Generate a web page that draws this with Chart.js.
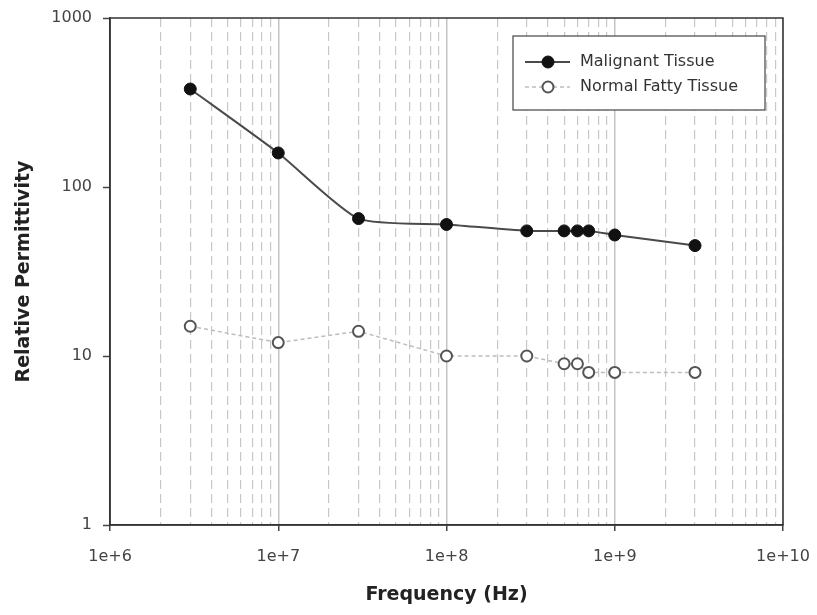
<!DOCTYPE html>
<html>
<head>
<meta charset="utf-8">
<script src="https://cdn.jsdelivr.net/npm/chart.js@4/dist/chart.umd.min.js"></script>
<style>
  html, body { margin: 0; padding: 0; background: #fff; }
  canvas { display: block; }
</style>
</head>
<body>
<canvas id="permChart" width="817" height="615"></canvas>
<script>
// values (log-log)
const frequencies = [3e6, 1e7, 3e7, 1e8, 3e8, 5e8, 6e8, 7e8, 1e9, 3e9];
const malignantValues = [380, 159, 65, 60, 55, 55, 55, 55, 52, 45];
const fattyValues = [15, 12, 14, 10, 10, 9, 9, 8, 8, 8];
const seriesNames = ['Malignant Tissue', 'Normal Fatty Tissue'];
const xDecades = [1e6, 1e7, 1e8, 1e9, 1e10];
const yDecades = [1, 10, 100, 1000];

const FONT = "'DejaVu Sans', sans-serif";

function isDecade(v) {
  const l = Math.log10(v);
  return Math.abs(l - Math.round(l)) < 1e-9;
}

// all 1..9 x 10^n positions between the decades, for the dashed grid
function minorTicks(decades) {
  const out = [];
  for (let i = 0; i < decades.length - 1; i++) {
    for (let m = 1; m < 10; m++) out.push({ value: decades[i] * m });
  }
  out.push({ value: decades[decades.length - 1] });
  return out;
}

// box round the plot + the legend drawn inside it
const framePlugin = {
  id: 'frame',
  afterDraw(chart) {
    const { ctx, chartArea: a } = chart;
    ctx.save();
    ctx.strokeStyle = '#333';
    ctx.lineWidth = 1.5;
    ctx.strokeRect(a.left, a.top, a.right - a.left, a.bottom - a.top);

    // legend
    const bx = 513, by = 36, bw = 252, bh = 74;
    ctx.fillStyle = '#fff';
    ctx.fillRect(bx, by, bw, bh);
    ctx.strokeStyle = '#444';
    ctx.lineWidth = 1.2;
    ctx.strokeRect(bx, by, bw, bh);
    const rows = [62, 87];
    chart.data.datasets.forEach((ds, i) => {
      const y = rows[i];
      ctx.save();
      ctx.strokeStyle = ds.borderColor;
      ctx.lineWidth = ds.borderWidth;
      ctx.setLineDash(ds.borderDash || []);
      ctx.beginPath();
      ctx.moveTo(525, y);
      ctx.lineTo(570, y);
      ctx.stroke();
      ctx.restore();
      ctx.beginPath();
      ctx.arc(548, y, ds.pointRadius, 0, Math.PI * 2);
      ctx.fillStyle = ds.pointBackgroundColor;
      ctx.fill();
      ctx.lineWidth = ds.pointBorderWidth;
      ctx.strokeStyle = ds.pointBorderColor;
      ctx.stroke();
      ctx.fillStyle = '#333';
      ctx.font = '16px ' + FONT;
      ctx.textBaseline = 'middle';
      ctx.textAlign = 'left';
      ctx.fillText(ds.label, 580, y);
    });
    ctx.restore();
  }
};

const ctx = document.getElementById('permChart').getContext('2d');
const permChart = new Chart(ctx, {
  type: 'line',
  data: {
    datasets: [{
      label: seriesNames[0],
      data: frequencies.map((f, i) => ({ x: f, y: malignantValues[i] })),
      borderColor: '#4a4a4a',
      borderWidth: 2,
      tension: 0.2,
      pointRadius: 6,
      pointBackgroundColor: '#111',
      pointBorderColor: '#111',
      pointBorderWidth: 1,
      pointHoverRadius: 6
    }, {
      label: seriesNames[1],
      data: frequencies.map((f, i) => ({ x: f, y: fattyValues[i] })),
      borderColor: '#bdbdbd',
      borderWidth: 1.5,
      borderDash: [4, 3],
      tension: 0,
      pointRadius: 5.5,
      pointBackgroundColor: '#fff',
      pointBorderColor: '#555',
      pointBorderWidth: 2,
      pointHoverRadius: 5.5
    }]
  },
  options: {
    responsive: false,
    animation: false,
    devicePixelRatio: 1,
    layout: { padding: { left: 0, top: 18, right: 34, bottom: 0 } },
    plugins: {
      legend: { display: false },
      tooltip: { enabled: false }
    },
    scales: {
      x: {
        type: 'logarithmic',
        min: 1e6,
        max: 1e10,
        afterBuildTicks: (scale) => { scale.ticks = minorTicks(xDecades); },
        afterFit: (scale) => {
          scale.height = 90;
          scale.paddingLeft = 0;
          scale.paddingRight = 0;
        },
        ticks: {
          autoSkip: false,
          maxRotation: 0,
          padding: 16,
          color: '#444',
          font: { family: FONT, size: 16 },
          callback: (v) => isDecade(v) ? '1e+' + Math.round(Math.log10(v)) : ''
        },
        grid: {
          drawOnChartArea: true,
          tickLength: 6,
          color: (c) => c.tick && isDecade(c.tick.value) ? '#c4c4c4' : '#c8c8c8',
          lineWidth: (c) => c.tick && isDecade(c.tick.value) ? 1.5 : 1.2,
          tickColor: (c) => c.tick && isDecade(c.tick.value) ? '#444' : 'rgba(0,0,0,0)',
          tickWidth: 1.5
        },
        border: {
          color: '#333',
          width: 1.5,
          dash: (c) => c.tick && isDecade(c.tick.value) ? [] : [9, 5]
        },
        title: {
          display: true,
          text: 'Frequency (Hz)',
          color: '#222',
          font: { family: FONT, size: 19, weight: 'bold', lineHeight: 1.2 },
          padding: { top: 0, bottom: 9 }
        }
      },
      y: {
        type: 'logarithmic',
        min: 1,
        max: 1000,
        afterBuildTicks: (scale) => { scale.ticks = yDecades.map(v => ({ value: v })); },
        afterFit: (scale) => {
          scale.width = 110;
          scale.paddingTop = 0;
          scale.paddingBottom = 0;
        },
        ticks: {
          autoSkip: false,
          padding: 11,
          color: '#444',
          font: { family: FONT, size: 16 },
          callback: (v) => String(v)
        },
        grid: {
          drawOnChartArea: false,
          tickLength: 7,
          tickColor: '#444',
          tickWidth: 1.5
        },
        border: { color: '#333', width: 1.5 },
        title: {
          display: true,
          text: 'Relative Permittivity',
          color: '#222',
          font: { family: FONT, size: 19, weight: 'bold', lineHeight: 1.2 },
          padding: { top: 13, bottom: 0 }
        }
      }
    }
  },
  plugins: [framePlugin]
});
</script>
</body>
</html>
